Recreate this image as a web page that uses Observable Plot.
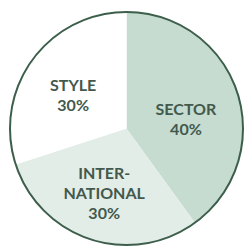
<!DOCTYPE html>
<html>
<head>
<meta charset="utf-8">
<script src="https://cdn.jsdelivr.net/npm/d3@7"></script>
<script src="https://cdn.jsdelivr.net/npm/@observablehq/plot@0.6"></script>
<style>
  html, body { margin: 0; padding: 0; background: #fff; }
  #chart svg { display: block; }
</style>
</head>
<body>
<div id="chart"></div>
<script>
const categories = ["SECTOR", "INTERNATIONAL", "STYLE"];
const shares = [40, 30, 30];
const labels = ["SECTOR\n40%", "INTER-\nNATIONAL\n30%", "STYLE\n30%"];
const fills = ["#c6dcd0", "#e3ede7", "#ffffff"];

const rows = categories.map((c, i) => ({category: c, share: shares[i], label: labels[i], fill: fills[i]}));
const arcs = d3.pie().sort(null).value(d => d.share)(rows);
const labelR = 0.55;
arcs.forEach(a => {
  const mid = (a.startAngle + a.endAngle) / 2;
  a.data.lx = labelR * Math.sin(mid);
  a.data.ly = labelR * Math.cos(mid);
});

function pieMark(index, scales) {
  const cx = scales.x(0), cy = scales.y(0), r = scales.x(1) - scales.x(0);
  const g = d3.create("svg:g").attr("transform", `translate(${cx},${cy})`);
  const arc = d3.arc().innerRadius(0).outerRadius(r);
  g.selectAll("path").data(arcs).join("path")
    .attr("d", arc)
    .attr("fill", d => d.data.fill);
  g.append("circle").attr("r", r).attr("fill", "none")
    .attr("stroke", "#3c5e4b").attr("stroke-width", 2);
  return g.node();
}

const textOpts = {
  x: "lx", y: "ly", text: "label",
  fill: "#42594c", fontSize: 16, fontWeight: 700,
  fontFamily: "Lato", lineHeight: 1.25
};

const chart = Plot.plot({
  width: 245,
  height: 247,
  marginLeft: 10, marginRight: 2, marginTop: 12, marginBottom: 2,
  x: {domain: [-1, 1], axis: null},
  y: {domain: [-1, 1], axis: null},
  style: {background: "#fff"},
  marks: [
    pieMark,
    Plot.text(rows, {...textOpts, filter: d => d.category === "SECTOR", dx: -2, dy: 9}),
    Plot.text(rows, {...textOpts, filter: d => d.category === "INTERNATIONAL", dx: -3, dy: 3}),
    Plot.text(rows, {...textOpts, filter: d => d.category === "STYLE", dx: -2, dy: 3})
  ]
});
document.getElementById("chart").append(chart);
</script>
</body>
</html>
